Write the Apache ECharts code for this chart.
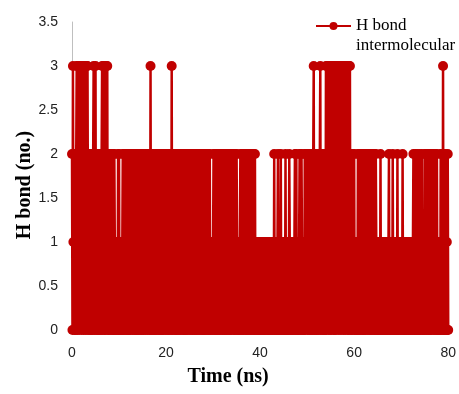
<!DOCTYPE html>
<html>
<head>
<meta charset="utf-8">
<script src="https://cdn.jsdelivr.net/npm/echarts@6/dist/echarts.min.js"></script>
<style>
  html, body { margin: 0; padding: 0; background: #fff; }
  #chart { width: 459px; height: 394px; }
</style>
</head>
<body>
<div id="chart"></div>
<script>
// H bond count sampled every 0.1 ns, one array per 10 ns (one row per ns)
const STEP = 0.1;
const hb00 = [
  2,0,3,1,2,0,2,1,0,2,  3,0,3,1,3,0,2,3,1,3,  0,3,2,3,0,3,1,3,0,3,  2,3,0,3,1,2,0,2,1,0,
  2,0,1,2,0,2,3,0,2,1,  3,0,2,1,0,2,0,1,2,0,  2,1,0,2,3,0,2,3,1,0,  3,0,2,3,1,3,0,2,0,1,
  2,0,1,2,0,2,1,0,2,0,  2,1,0,1,0,1,1,0,2,0];
const hb10 = [
  2,0,1,0,1,0,0,1,2,0,  2,0,1,2,0,2,1,0,2,0,  0,2,1,0,2,0,2,1,2,0,  1,2,0,2,1,0,2,0,1,2,
  0,2,0,1,2,0,2,1,0,2,  1,0,2,0,2,1,2,0,1,2,  0,2,1,2,0,2,0,3,0,2,  1,0,2,0,2,1,0,2,0,2,
  2,0,1,2,0,2,1,0,2,0,  0,2,1,0,2,0,2,1,2,0];
const hb20 = [
  1,2,0,2,1,0,2,0,1,2,  2,0,3,0,2,1,2,0,2,1,  0,2,0,1,2,0,2,1,0,2,  2,0,1,2,0,2,1,0,2,0,
  0,2,1,0,2,0,2,1,2,0,  1,2,0,2,1,0,2,0,1,2,  0,2,1,0,2,0,1,2,0,2,  2,0,1,2,0,2,1,0,2,0,
  0,2,1,0,2,0,2,1,2,0,  2,0,1,2,0,1,0,1,1,0];
const hb30 = [
  1,2,0,2,1,0,2,0,1,2,  0,2,1,0,2,0,2,1,2,0,  2,0,1,2,0,2,1,0,2,0,  1,2,0,2,1,0,2,0,1,2,
  0,2,1,2,0,2,0,1,2,0,  2,1,0,1,0,1,0,0,2,1,  0,2,1,0,2,0,2,1,2,0,  2,0,1,2,0,2,1,0,2,0,
  1,2,0,2,1,0,2,0,1,2,  0,1,0,1,1,0,1,0,0,1];
const hb40 = [
  1,0,1,0,0,1,0,1,1,0,  0,1,0,1,1,0,1,0,0,1,  1,0,1,0,0,1,0,1,1,0,  2,0,1,0,1,0,0,1,2,0,
  1,0,1,0,2,0,1,0,1,0,  1,0,1,0,2,0,1,0,1,0,  1,0,2,1,0,1,0,1,0,1,  0,1,0,1,2,0,1,2,0,1,
  0,1,0,1,2,0,2,0,2,1,  0,1,0,1,0,2,0,2,1,2];
const hb50 = [
  2,0,1,2,0,2,1,0,2,0,  2,1,0,2,3,0,2,0,1,2,  0,2,1,0,2,0,1,2,3,0,  2,1,0,2,0,2,1,0,2,0,
  3,0,2,3,1,3,0,2,3,0,  3,2,0,3,1,3,0,3,2,0,  3,0,3,1,2,3,0,3,1,3,  0,3,2,3,0,3,1,3,0,2,
  3,0,3,1,3,2,0,3,0,3,  1,3,0,2,0,2,1,0,2,1];
const hb60 = [
  2,0,1,0,1,0,1,0,2,0,  2,1,0,2,0,2,1,0,2,0,  0,2,1,0,2,0,2,1,2,0,  1,2,0,2,1,0,2,0,1,2,
  0,2,1,0,2,0,2,1,0,1,  0,1,0,1,1,0,2,0,1,0,  1,0,1,0,0,1,0,1,1,0,  0,1,0,1,2,0,1,0,1,0,
  1,0,2,0,1,0,1,0,1,0,  1,0,2,0,1,0,1,1,0,1];
const hb70 = [
  0,1,0,2,0,1,0,1,0,1,  0,1,0,1,1,0,1,0,0,1,  0,1,0,1,0,1,2,0,1,0,  2,0,1,0,2,0,1,0,0,2,
  0,1,0,1,2,0,1,0,1,0,  2,0,1,2,0,2,1,0,2,0,  0,2,1,0,2,0,2,1,2,0,  1,2,0,2,1,0,2,0,1,0,
  1,0,1,0,2,0,2,1,0,3,  0,2,0,1,0,2,0,1,0,2];
const hb80 = [0];

const hbond = [].concat(hb00, hb10, hb20, hb30, hb40, hb50, hb60, hb70, hb80);
const seriesData = hbond.map((v, i) => [+(i * STEP).toFixed(1), v]);

const red = '#C00000';
const serif = '"Liberation Serif", "Times New Roman", serif';
const sans = '"Liberation Sans", Arial, sans-serif';

const chart = echarts.init(document.getElementById('chart'));
chart.setOption({
  animation: false,
  grid: { left: 72, right: 8, top: 22, bottom: 64 },
  legend: {
    left: 315,
    top: -4,
    padding: 0,
    itemWidth: 35,
    itemHeight: 10,
    formatter: () => ' \nH bond\nintermolecular',
    textStyle: { fontFamily: serif, fontSize: 17, color: '#000', lineHeight: 20 },
    data: ['H bond intermolecular'],
  },
  xAxis: {
    type: 'value',
    min: 0,
    max: 80,
    interval: 20,
    name: 'Time (ns)',
    nameLocation: 'middle',
    nameGap: 37,
    nameMoveOverlap: false,
    nameTextStyle: { fontFamily: serif, fontSize: 20, fontWeight: 'bold', color: '#000', padding: [0, 64, 0, 0] },
    axisLine: { show: true, lineStyle: { color: '#bfbfbf' } },
    axisTick: { show: false },
    splitLine: { show: false },
    axisLabel: { fontFamily: sans, fontSize: 14, color: '#222', margin: 16 },
  },
  yAxis: {
    type: 'value',
    min: 0,
    max: 3.5,
    interval: 0.5,
    name: 'H bond (no.)',
    nameLocation: 'middle',
    nameGap: 37,
    nameMoveOverlap: false,
    nameTextStyle: { fontFamily: serif, fontSize: 20, fontWeight: 'bold', color: '#000', padding: [0, 18, 0, 0] },
    axisLine: { show: true, lineStyle: { color: '#bfbfbf' } },
    axisTick: { show: false },
    splitLine: { show: false },
    axisLabel: { fontFamily: sans, fontSize: 14, color: '#222', margin: 14 },
  },
  series: [
    {
      name: 'H bond intermolecular',
      type: 'line',
      data: seriesData,
      symbol: 'circle',
      symbolSize: 10,
      showAllSymbol: true,
      color: red,
      lineStyle: { color: red, width: 2.5 },
      itemStyle: { color: red },
    },
  ],
});
</script>
</body>
</html>
